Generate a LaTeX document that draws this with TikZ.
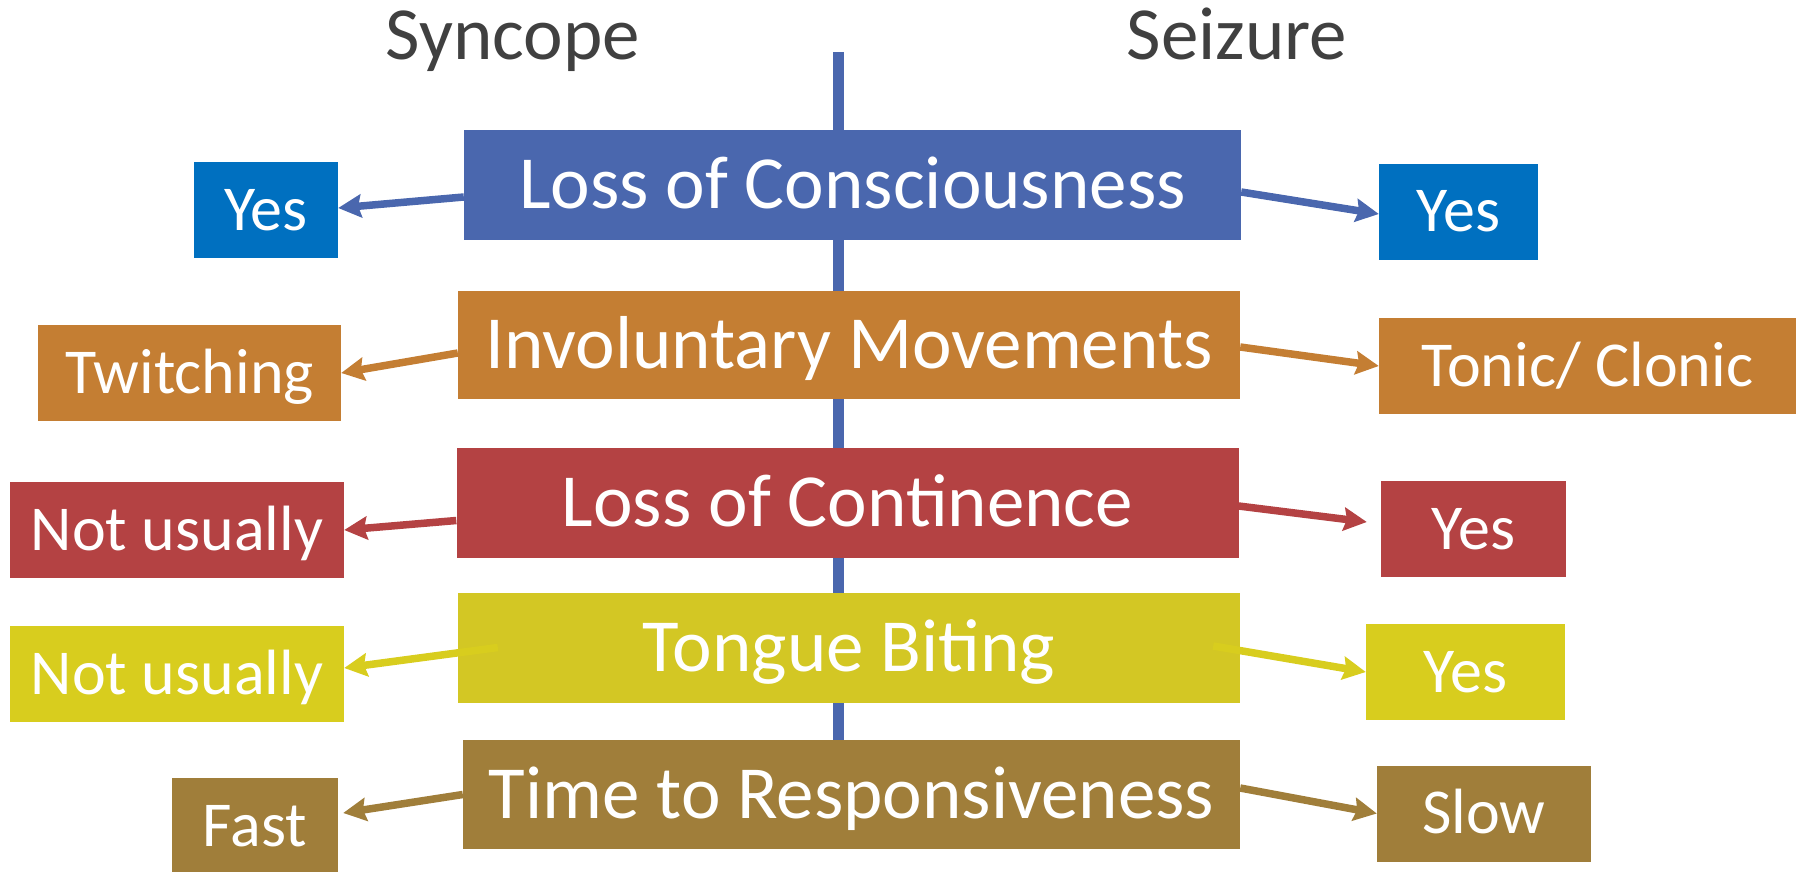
\documentclass[tikz,border=0pt]{standalone}
\usepackage{fontspec}
\setmainfont{Carlito}
\usetikzlibrary{arrows.meta}

\definecolor{rowBlue}{RGB}{74,103,174}
\definecolor{yesBlue}{RGB}{0,112,192}
\definecolor{rowOrange}{RGB}{196,126,51}
\definecolor{rowRed}{RGB}{180,66,67}
\definecolor{rowYellow}{RGB}{211,199,36}
\definecolor{sideYellow}{RGB}{216,205,30}
\definecolor{rowBrown}{RGB}{160,126,58}
\definecolor{titleGray}{RGB}{64,64,64}

\begin{document}
\begin{tikzpicture}[x=1pt,y=-1pt,
  box/.style={fill=#1,text=white,inner sep=0pt,text depth=0pt},
  mid/.style={box=#1,font=\fontsize{75}{90}\selectfont,text height=47.4pt},
  side/.style={box=#1,font=\fontsize{64}{76}\selectfont,text height=40.4pt,minimum height=96pt},
  title/.style={text=titleGray,anchor=base,font=\fontsize{75}{90}\selectfont},
  link/.style={draw=#1,line width=7.5pt,-{Stealth[length=23pt,width=23pt,inset=3pt]}}]

  \useasboundingbox (0,0) rectangle (1803,872);

  \coordinate (spineTop) at (838,52);
  \coordinate (spineEnd) at (838,745);
  \draw[rowBlue,line width=11pt] (spineTop) -- (spineEnd);

  \node[title] (syncope) at (513,60) {Syncope};
  \node[title] (seizure) at (1237,60) {Seizure};

  % middle column
  \node[mid=rowBlue,minimum width=777pt,minimum height=110pt] (c1) at (852.5,185) {Loss of Consciousness};
  \node[mid=rowOrange,minimum width=782pt,minimum height=108pt] (c2) at (849,345) {Involuntary Movements};
  \node[mid=rowRed,minimum width=782pt,minimum height=110pt] (c3) at (847.5,503) {Loss of Continence};
  \node[mid=rowYellow,minimum width=782pt,minimum height=110pt] (c4) at (849,647.5) {Tongue Biting};
  \node[mid=rowBrown,minimum width=777pt,minimum height=109pt] (c5) at (851.5,794.5) {Time to Responsiveness};

  % syncope side
  \node[side=yesBlue,minimum width=144pt] (l1) at (266,210) {Yes};
  \node[side=rowOrange,minimum width=303pt] (l2) at (189.5,373) {Twitching};
  \node[side=rowRed,minimum width=334pt] (l3) at (177,530) {Not usually};
  \node[side=sideYellow,minimum width=334pt] (l4) at (177,674) {Not usually};
  \node[side=rowBrown,minimum width=166pt] (l5) at (255,826) {Fast};

  % seizure side
  \node[side=yesBlue,minimum width=159pt] (r1) at (1458.5,211.5) {Yes};
  \node[side=rowOrange,minimum width=417pt] (r2) at (1587.5,366) {Tonic/ Clonic};
  \node[side=rowRed,minimum width=185pt] (r3) at (1473.5,529) {Yes};
  \node[side=sideYellow,minimum width=199pt] (r4) at (1465.5,672) {Yes};
  \node[side=rowBrown,minimum width=214pt] (r5) at (1484,813.5) {Slow};

  \draw[link=rowBlue] ([yshift=-12pt]c1.west) -- ([yshift=2pt]l1.east);
  \draw[link=rowBlue] ([yshift=-7pt]c1.east) -- ([yshift=-2.5pt]r1.west);
  \draw[link=rowOrange] ([yshift=-8pt]c2.west) -- (l2.east);
  \draw[link=rowOrange] ([yshift=-2pt]c2.east) -- (r2.west);
  \draw[link=rowRed] ([yshift=-17.5pt]c3.west) -- (l3.east);
  \draw[link=rowRed] ([yshift=-3pt]c3.east) -- ([xshift=-14pt,yshift=7pt]r3.west);
  \draw[link=sideYellow] ([xshift=40pt]c4.west) -- ([yshift=6pt]l4.east);
  \draw[link=sideYellow] ([xshift=-27pt,yshift=1.5pt]c4.east) -- (r4.west);
  \draw[link=rowBrown] (c5.west) -- ([xshift=5pt,yshift=13pt]l5.east);
  \draw[link=rowBrown] ([yshift=6.5pt]c5.east) -- (r5.west);
\end{tikzpicture}
\end{document}
